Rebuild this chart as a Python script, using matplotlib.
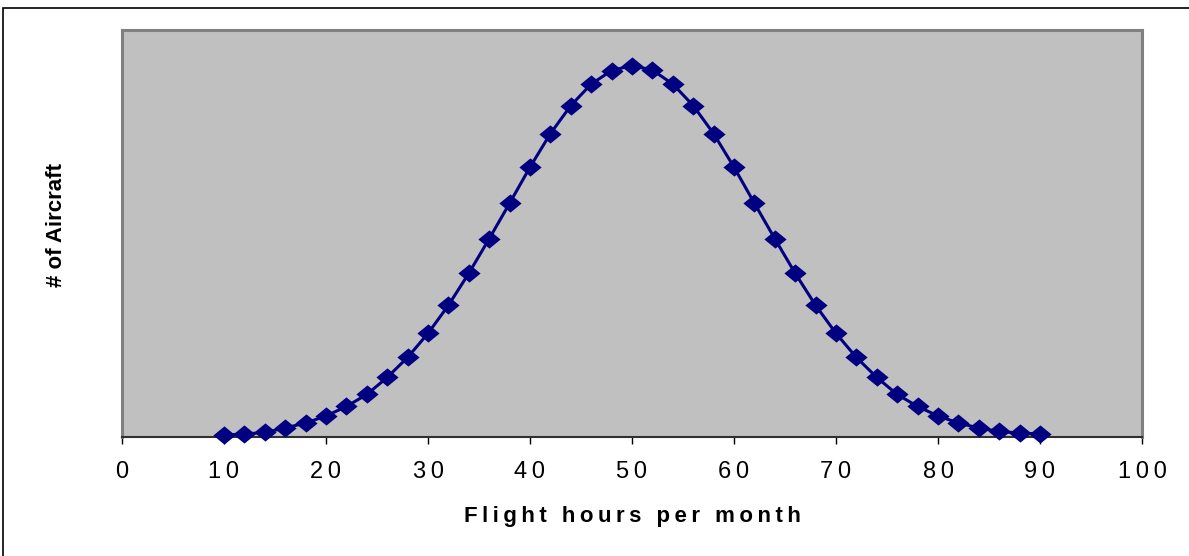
import matplotlib.pyplot as plt
from matplotlib.patches import Rectangle
from matplotlib.path import Path

# flight hours per month (x) and aircraft count (relative scale)
hours = [10, 12, 14, 16, 18, 20, 22, 24, 26, 28, 30, 32, 34, 36, 38, 40, 42, 44, 46, 48, 50,
         52, 54, 56, 58, 60, 62, 64, 66, 68, 70, 72, 74, 76, 78, 80, 82, 84, 86, 88, 90]
aircraft = [1.5, 2.5, 4, 8.5, 13.5, 20.5, 30, 42, 59, 79, 103, 131, 163, 197.5, 233, 269, 302.5, 330.5, 352, 365.5, 370.5,
            366, 352, 330.5, 302.5, 269, 233, 197.5, 163, 131, 103, 79, 59, 42, 30, 20.5, 13.5, 8.5, 5, 3.5, 2.5]
tick_values = [0, 10, 20, 30, 40, 50, 60, 70, 80, 90, 100]

plt.rcParams['font.family'] = ['Liberation Sans', 'DejaVu Sans']
TS = '\u2009'  # thin space, mimics the wide letter spacing


def spaced(s):
    return TS.join(s)


W, H = 1189, 556
fig = plt.figure(figsize=(W / 100, H / 100), dpi=100)
ax = fig.add_axes([122 / W, 1 - 436.5 / H, (1142 - 122) / W, (436.5 - 30) / H])

# outer border of the chart (only left and top edges are visible in the original)
fig.patches.append(Rectangle((3 / W, -0.1), 1.2, 1.1 - 8 / H, transform=fig.transFigure,
                             fill=False, edgecolor='black', linewidth=1.2))

ax.set_facecolor('#C0C0C0')

# diamond marker a little flatter than tall
diamond = Path([(-1, 0), (0, 0.82), (1, 0), (0, -0.82), (-1, 0)],
               [Path.MOVETO, Path.LINETO, Path.LINETO, Path.LINETO, Path.CLOSEPOLY])
ax.plot(hours, aircraft, color='#000080', linewidth=2.2, marker=diamond, markersize=16,
        markeredgewidth=0, clip_on=False, zorder=5)

ax.set_xlim(0, 100)
ax.set_ylim(0, 406)
ax.set_xticks(tick_values)
ax.set_xticklabels([spaced(str(v)) for v in tick_values], fontsize=17)
ax.set_yticks([])
ax.tick_params(axis='x', direction='out', length=5, width=1, color='black', pad=13)

for side in ['left', 'top', 'right']:
    ax.spines[side].set_color('#808080')
    ax.spines[side].set_linewidth(2.2)
ax.spines['bottom'].set_color('#303030')
ax.spines['bottom'].set_linewidth(1.5)
ax.spines['bottom'].set_zorder(4)

ax.set_xlabel(spaced('Flight hours per month'), fontsize=16, fontweight='bold', labelpad=16)
fig.text(57 / W, 1 - 225 / H, '# of Aircraft', rotation=90, fontsize=16, fontweight='bold',
         ha='center', va='center')

fig.savefig('out.png', dpi=100)
